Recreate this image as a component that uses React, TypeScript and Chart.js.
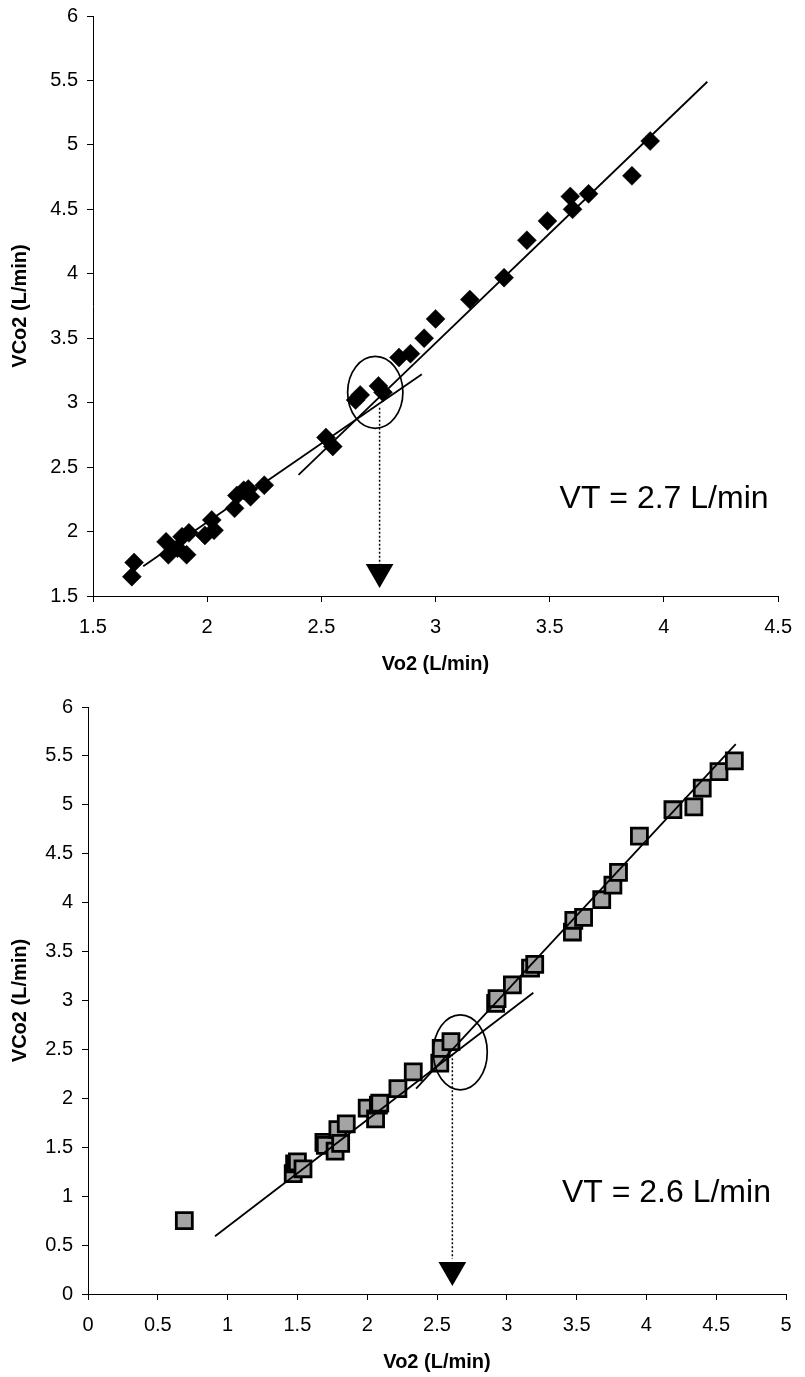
import React, { useEffect, useRef } from "react";
import { Chart, registerables } from "chart.js";

Chart.register(...registerables);

const FONT = '"Liberation Sans", Arial, Helvetica, sans-serif';

// ---------- Top panel data ----------
const topVo2 = [1.67, 1.68, 1.82, 1.83, 1.87, 1.89, 1.91, 1.92, 1.99, 2.02, 2.03, 2.12, 2.13, 2.16, 2.18, 2.19, 2.25, 2.52, 2.55, 2.65, 2.67, 2.75, 2.77, 2.84, 2.89, 2.95, 3.0, 3.15, 3.3, 3.4, 3.49, 3.59, 3.6, 3.67, 3.86, 3.94];
const topVco2 = [1.65, 1.76, 1.92, 1.82, 1.87, 1.96, 1.82, 1.99, 1.97, 2.09, 2.01, 2.18, 2.28, 2.32, 2.33, 2.27, 2.36, 2.73, 2.66, 3.02, 3.06, 3.13, 3.08, 3.35, 3.38, 3.5, 3.65, 3.8, 3.97, 4.26, 4.41, 4.6, 4.5, 4.62, 4.76, 5.03];
const topFit1Vo2 = [1.72, 2.94];
const topFit1Vco2 = [1.73, 3.22];
const topFit2Vo2 = [2.4, 4.19];
const topFit2Vco2 = [2.44, 5.49];
const topXTicks = [1.5, 2, 2.5, 3, 3.5, 4, 4.5];
const topYTicks = [1.5, 2, 2.5, 3, 3.5, 4, 4.5, 5, 5.5, 6];
const topArrowVo2 = [2.755, 2.755];
const topArrowVco2 = [2.96, 1.74];
const topArrowHead = [2.755, 1.686];
const topEllipse = [2.736, 3.08, 0.121, 0.279];
const topLabel = "VT = 2.7 L/min";
const topLabelAt = [3.543, 2.186];

// ---------- Bottom panel data ----------
const botVo2 = [0.69, 1.47, 1.48, 1.5, 1.54, 1.69, 1.7, 1.77, 1.79, 1.81, 1.85, 2.0, 2.06, 2.08, 2.09, 2.22, 2.33, 2.52, 2.53, 2.6, 2.92, 2.93, 3.04, 3.17, 3.2, 3.47, 3.48, 3.55, 3.68, 3.76, 3.8, 3.95, 4.19, 4.34, 4.4, 4.52, 4.63];
const botVco2 = [0.75, 1.23, 1.33, 1.35, 1.28, 1.55, 1.52, 1.46, 1.68, 1.54, 1.74, 1.9, 1.79, 1.93, 1.95, 2.1, 2.27, 2.36, 2.51, 2.58, 2.97, 3.02, 3.16, 3.33, 3.37, 3.7, 3.82, 3.85, 4.03, 4.18, 4.31, 4.68, 4.95, 4.98, 5.17, 5.34, 5.45];
const botFit1Vo2 = [0.91, 3.19];
const botFit1Vco2 = [0.59, 3.08];
const botFit2Vo2 = [2.35, 4.64];
const botFit2Vco2 = [2.1, 5.62];
const botXTicks = [0, 0.5, 1, 1.5, 2, 2.5, 3, 3.5, 4, 4.5, 5];
const botYTicks = [0, 0.5, 1, 1.5, 2, 2.5, 3, 3.5, 4, 4.5, 5, 5.5, 6];
const botArrowVo2 = [2.61, 2.61];
const botArrowVco2 = [2.45, 0.36];
const botArrowHead = [2.61, 0.245];
const botEllipse = [2.667, 2.47, 0.193, 0.383];
const botLabel = "VT = 2.6 L/min";
const botLabelAt = [3.395, 0.936];

const xTitle = "Vo2 (L/min)";
const yTitle = "VCo2 (L/min)";

const toPts = (xs: number[], ys: number[]) => xs.map((v, i) => ({ x: v, y: ys[i] }));

const annotPlugin = {
  id: "annot",
  afterDatasetsDraw(chart: any, _args: any, opts: any) {
    const { ctx } = chart;
    const x = chart.scales.x;
    const y = chart.scales.y;
    const e = opts.ellipse;
    ctx.save();
    const cx = x.getPixelForValue(e[0]);
    const cy = y.getPixelForValue(e[1]);
    const rx = Math.abs(x.getPixelForValue(e[0] + e[2]) - cx);
    const ry = Math.abs(y.getPixelForValue(e[1] + e[3]) - cy);
    ctx.beginPath();
    ctx.ellipse(cx, cy, rx, ry, 0, 0, Math.PI * 2);
    ctx.lineWidth = 1.7;
    ctx.strokeStyle = "#000";
    ctx.stroke();
    ctx.font = `32px ${FONT}`;
    ctx.fillStyle = "#000";
    ctx.textAlign = "left";
    ctx.textBaseline = "alphabetic";
    ctx.fillText(opts.label, x.getPixelForValue(opts.labelAt[0]), y.getPixelForValue(opts.labelAt[1]));
    ctx.restore();
  },
};

type PanelProps = {
  top: number;
  height: number;
  padTop: number;
  yWidth: number;
  xHeight: number;
  xTitlePad: number;
  xs: number[];
  ys: number[];
  fit1: [number[], number[]];
  fit2: [number[], number[]];
  arrow: [number[], number[]];
  head: number[];
  xTicks: number[];
  yTicks: number[];
  ellipse: number[];
  label: string;
  labelAt: number[];
  marker: "diamond" | "square";
};

function Panel(p: PanelProps) {
  const ref = useRef<HTMLCanvasElement | null>(null);
  useEffect(() => {
    if (!ref.current) return;
    const pointDs =
      p.marker === "diamond"
        ? {
            data: toPts(p.xs, p.ys),
            pointStyle: "rectRot",
            pointRadius: 9.5,
            backgroundColor: "#000",
            borderColor: "#000",
            borderWidth: 0.5,
            showLine: false,
            order: 3,
          }
        : {
            data: toPts(p.xs, p.ys),
            pointStyle: "rect",
            pointRadius: 11.3,
            backgroundColor: "#a4a4a4",
            borderColor: "#000",
            borderWidth: 2.8,
            showLine: false,
            order: 3,
          };
    const lineDs = (pts: [number[], number[]]) => ({
      data: toPts(pts[0], pts[1]),
      showLine: true,
      borderColor: "#000",
      borderWidth: 1.8,
      pointRadius: 0,
      fill: false,
      order: 1,
    });
    const scaleCommon = (ticks: number[], size: number, dim: "w" | "h") => ({
      type: "linear" as const,
      min: ticks[0],
      max: ticks[ticks.length - 1],
      afterBuildTicks: (s: any) => {
        s.ticks = ticks.map((v) => ({ value: v }));
      },
      afterFit: (s: any) => {
        if (dim === "w") {
          s.width = size;
          s.paddingTop = 0;
          s.paddingBottom = 0;
        } else {
          s.height = size;
        }
      },
      grid: {
        display: true,
        drawOnChartArea: false,
        drawTicks: true,
        tickLength: 6,
        color: "#000",
        lineWidth: 1,
      },
      border: { display: true, color: "#000", width: 1 },
    });
    const chart = new Chart(ref.current, {
      type: "scatter",
      data: {
        datasets: [
          lineDs(p.fit1),
          lineDs(p.fit2),
          {
            data: toPts(p.arrow[0], p.arrow[1]),
            showLine: true,
            borderColor: "#000",
            borderWidth: 1.5,
            borderDash: [2, 2],
            pointRadius: 0,
            order: 1,
          },
          {
            data: [{ x: p.head[0], y: p.head[1] }],
            pointStyle: "triangle",
            rotation: 180,
            pointRadius: 16,
            backgroundColor: "#000",
            borderColor: "#000",
            borderWidth: 0,
            order: 1,
          },
          pointDs,
        ] as any,
      },
      options: {
        animation: false,
        responsive: false,
        maintainAspectRatio: false,
        layout: { padding: { left: 0, top: p.padTop, right: 19, bottom: 0 } },
        plugins: {
          legend: { display: false },
          tooltip: { enabled: false },
          annot: { ellipse: p.ellipse, label: p.label, labelAt: p.labelAt },
        } as any,
        scales: {
          x: {
            ...scaleCommon(p.xTicks, p.xHeight, "h"),
            ticks: {
              color: "#000",
              padding: 13,
              font: { family: FONT, size: 20 },
              callback: (v: any) => String(Number(v)),
            },
            title: {
              display: true,
              text: xTitle,
              color: "#000",
              font: { family: FONT, size: 20, weight: "bold" },
              padding: { top: 0, bottom: p.xTitlePad },
            },
          },
          y: {
            ...scaleCommon(p.yTicks, p.yWidth, "w"),
            ticks: {
              color: "#000",
              padding: 9,
              font: { family: FONT, size: 20 },
              callback: (v: any) => String(Number(v)),
            },
            title: {
              display: true,
              text: yTitle,
              color: "#000",
              font: { family: FONT, size: 20, weight: "bold" },
              padding: { top: 8, bottom: 0 },
            },
          },
        } as any,
      },
      plugins: [annotPlugin],
    });
    return () => chart.destroy();
  }, []);
  return (
    <div style={{ position: "absolute", left: 0, top: p.top, width: 805, height: p.height }}>
      <canvas ref={ref} width={805} height={p.height} style={{ display: "block", width: 805, height: p.height }} />
    </div>
  );
}

export default function App() {
  return (
    <div style={{ position: "absolute", left: 0, top: 0, width: 805, height: 1377, background: "#fff" }}>
      <Panel
        top={0}
        height={690}
        padTop={15}
        yWidth={93}
        xHeight={94}
        xTitlePad={14}
        xs={topVo2}
        ys={topVco2}
        fit1={[topFit1Vo2, topFit1Vco2]}
        fit2={[topFit2Vo2, topFit2Vco2]}
        arrow={[topArrowVo2, topArrowVco2]}
        head={topArrowHead}
        xTicks={topXTicks}
        yTicks={topYTicks}
        ellipse={topEllipse}
        label={topLabel}
        labelAt={topLabelAt}
        marker="diamond"
      />
      <Panel
        top={690}
        height={687}
        padTop={17}
        yWidth={88}
        xHeight={83}
        xTitlePad={3}
        xs={botVo2}
        ys={botVco2}
        fit1={[botFit1Vo2, botFit1Vco2]}
        fit2={[botFit2Vo2, botFit2Vco2]}
        arrow={[botArrowVo2, botArrowVco2]}
        head={botArrowHead}
        xTicks={botXTicks}
        yTicks={botYTicks}
        ellipse={botEllipse}
        label={botLabel}
        labelAt={botLabelAt}
        marker="square"
      />
    </div>
  );
}
